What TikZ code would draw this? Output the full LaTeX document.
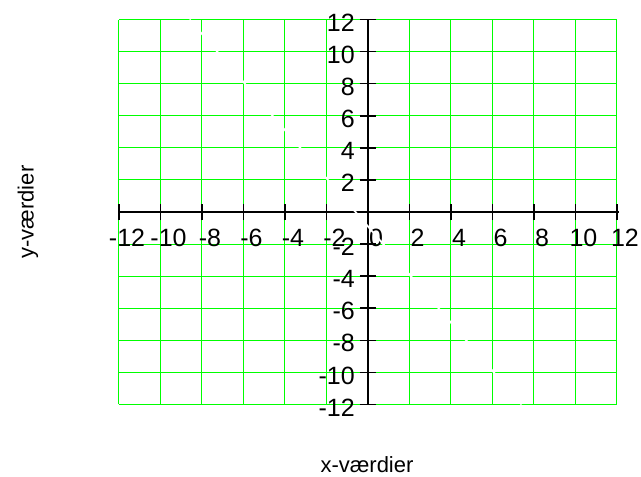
\documentclass[tikz,border=0pt]{standalone}
\usepackage{fontspec}
\setmainfont{Liberation Sans}
\begin{document}
\begin{tikzpicture}[
  gridline/.style={draw={rgb,255:red,0;green,255;blue,0}, line width=1pt},
  axisline/.style={draw=black, line width=1.6pt},
  ticklbl/.style={inner sep=0pt, font=\fontsize{25}{28}\selectfont},
  axlbl/.style={inner sep=0pt, font=\fontsize{22}{26}\selectfont},
  hidden/.style={draw=white, line width=1.8pt}
]
\useasboundingbox (-368pt,212pt) rectangle (273pt,-265pt);
\begin{scope}[x=20.75pt, y=16.04pt]
  % grid
  \foreach \v in {-12,-10,...,12} {
    \draw[gridline] (\v,-12) -- (\v,12);
    \draw[gridline] (-12,\v) -- (12,\v);
  }
  % axes
  \coordinate (xl) at (-12,0);
  \coordinate (xr) at (12.1,0);
  \coordinate (yb) at (0,-12);
  \coordinate (yt) at (0,12);
  \draw[axisline] (xl) -- (xr);
  \draw[axisline] (yb) -- (yt);
  \foreach \v in {-12,-10,...,12} {
    \draw[axisline] ([yshift=-8pt]\v,0) -- ([yshift=8pt]\v,0);
    \draw[axisline] ([xshift=-8pt]0,\v) -- ([xshift=8pt]0,\v);
  }
  % x labels
  \foreach \v/\t in {-12/-12,-10/-10,-8/-8,-6/-6,-4/-4,-2/-2,0/0,2/2,4/4,6/6,8/8,10/10,12/12} {
    \node[ticklbl] (xt\v) at ([xshift=8pt,yshift=-26pt]\v,0) {\t};
  }
  % y labels
  \foreach \v/\t in {-12/-12,-10/-10,-8/-8,-6/-6,-4/-4,-2/-2,2/2,4/4,6/6,8/8,10/10,12/12} {
    \node[ticklbl, anchor=east] (yt\v) at ([xshift=-13pt,yshift=-3pt]0,\v) {\t};
  }
  % faint white line
  \coordinate (wa) at (-8.6,12);
  \coordinate (wb) at (7.4,-12);
  \draw[hidden] (wa) -- (wb);
\end{scope}
\node[axlbl, rotate=90] (ylab) at (-340pt,0pt) {y-værdier};
\node[axlbl] (xlab) at (-1pt,-253pt) {x-værdier};
\end{tikzpicture}
\end{document}
